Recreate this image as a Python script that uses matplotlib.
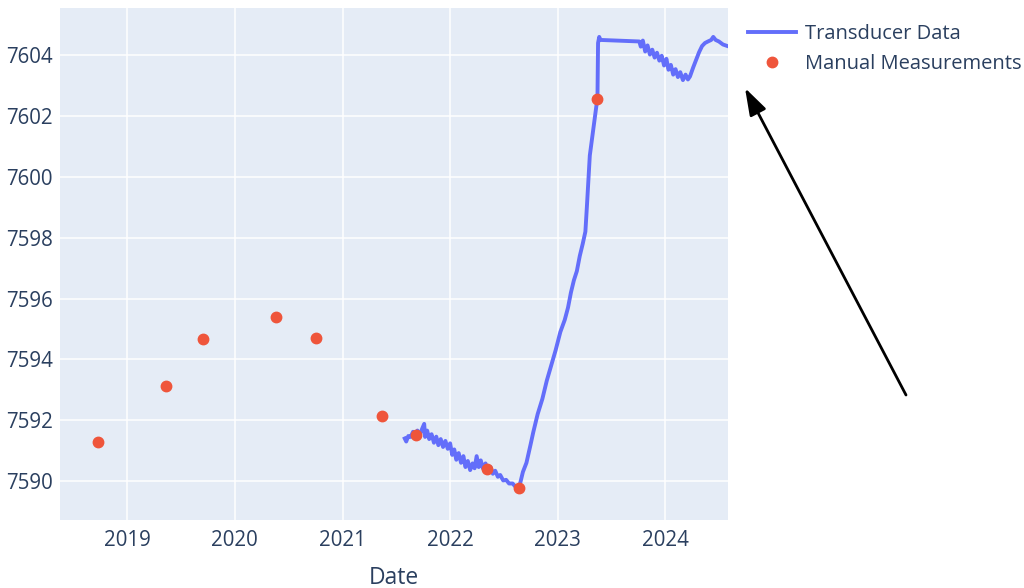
import matplotlib
matplotlib.use("Agg")
import matplotlib.pyplot as plt
import matplotlib.dates as mdates
import pandas as pd

# ---- Data --------------------------------------------------------------------
manual_dates = [
    "2018-09-25", "2019-05-13", "2019-09-16", "2020-05-19", "2020-10-02",
    "2021-05-16", "2021-09-06", "2022-05-05", "2022-08-23", "2023-05-16",
]
manual_values = [
    7591.29, 7593.12, 7594.68, 7595.39, 7594.71,
    7592.13, 7591.53, 7590.38, 7589.76, 7602.57,
]

transducer_dates = [
    # noisy decline 2021-2022
    "2021-07-31", "2021-08-05", "2021-08-12", "2021-08-20", "2021-08-28",
    "2021-09-05", "2021-09-12", "2021-09-20", "2021-09-28", "2021-10-05",
    "2021-10-08", "2021-10-15", "2021-10-22", "2021-10-30", "2021-11-07",
    "2021-11-15", "2021-11-22", "2021-11-30", "2021-12-08", "2021-12-16",
    "2021-12-24", "2022-01-01", "2022-01-08", "2022-01-15", "2022-01-22",
    "2022-01-30", "2022-02-07", "2022-02-15", "2022-02-22", "2022-03-02",
    "2022-03-10", "2022-03-18", "2022-03-25", "2022-04-01", "2022-04-08",
    "2022-04-15", "2022-04-22", "2022-05-01", "2022-05-10", "2022-05-18",
    "2022-05-26", "2022-06-03", "2022-06-12", "2022-06-20", "2022-06-30",
    "2022-07-10", "2022-07-20", "2022-08-01", "2022-08-12", "2022-08-23",
    # recovery 2022-2023
    "2022-09-05", "2022-09-17", "2022-10-01", "2022-10-10", "2022-10-25",
    "2022-11-10", "2022-11-25", "2022-12-10", "2022-12-25", "2023-01-10",
    "2023-01-25", "2023-02-05", "2023-02-15", "2023-02-25", "2023-03-07",
    "2023-03-17", "2023-03-27", "2023-04-05", "2023-04-10", "2023-04-20",
    "2023-05-16", "2023-05-18", "2023-05-22", "2023-05-26",
    # after the gap
    "2023-10-05", "2023-10-10", "2023-10-17", "2023-10-25", "2023-11-02",
    "2023-11-10", "2023-11-18", "2023-11-26", "2023-12-04", "2023-12-12",
    "2023-12-20", "2023-12-28", "2024-01-05", "2024-01-12", "2024-01-20",
    "2024-01-28", "2024-02-05", "2024-02-13", "2024-02-21", "2024-03-01",
    "2024-03-10", "2024-03-18", "2024-03-25", "2024-04-05", "2024-04-15",
    "2024-04-25", "2024-05-05", "2024-05-15", "2024-05-25", "2024-06-05",
    "2024-06-12", "2024-06-20", "2024-07-01", "2024-07-15", "2024-07-30",
]
transducer_values = [
    7591.40, 7591.30, 7591.48, 7591.45, 7591.62,
    7591.48, 7591.66, 7591.50, 7591.72, 7591.88,
    7591.45, 7591.66, 7591.38, 7591.54, 7591.26,
    7591.46, 7591.18, 7591.38, 7591.12, 7591.32,
    7591.06, 7591.24, 7590.86, 7591.04, 7590.70,
    7590.92, 7590.60, 7590.82, 7590.46, 7590.66,
    7590.36, 7590.58, 7590.42, 7590.82, 7590.46,
    7590.68, 7590.42, 7590.58, 7590.36, 7590.46,
    7590.24, 7590.34, 7590.14, 7590.20, 7590.02,
    7590.04, 7589.92, 7589.92, 7589.80, 7589.78,
    7590.30, 7590.60, 7591.20, 7591.60, 7592.20,
    7592.70, 7593.30, 7593.80, 7594.30, 7594.90,
    7595.30, 7595.70, 7596.20, 7596.60, 7596.90,
    7597.40, 7597.80, 7598.20, 7599.00, 7600.70,
    7602.60, 7604.40, 7604.60, 7604.50,
    7604.45, 7604.28, 7604.48, 7604.12, 7604.32,
    7604.02, 7604.18, 7603.92, 7604.08, 7603.82,
    7603.98, 7603.66, 7603.88, 7603.52, 7603.68,
    7603.36, 7603.54, 7603.28, 7603.44, 7603.18,
    7603.36, 7603.20, 7603.30, 7603.60, 7603.85,
    7604.10, 7604.30, 7604.40, 7604.45, 7604.50,
    7604.60, 7604.50, 7604.45, 7604.35, 7604.30,
]

# ---- Style -------------------------------------------------------------------
BG = "#E5ECF6"
TXT = "#2a3f5f"
LINE_C = "#636EFA"
DOT_C = "#EF553B"
plt.rcParams["font.family"] = ["Open Sans", "DejaVu Sans"]

fig = plt.figure(figsize=(10.24, 5.88), dpi=100)
ax = fig.add_axes([60 / 1024, 1 - 520 / 588, 668 / 1024, 512 / 588])
ax.set_facecolor(BG)

ax.plot(pd.to_datetime(transducer_dates), transducer_values,
        color=LINE_C, lw=2.8, label="Transducer Data", zorder=3)
ax.plot(pd.to_datetime(manual_dates), manual_values, "o",
        color=DOT_C, ms=7.5, label="Manual Measurements", zorder=4)

ax.set_xlim(pd.Timestamp("2018-05-18"), pd.Timestamp("2024-08-01"))
ax.set_ylim(7588.72, 7605.55)
ax.xaxis.set_major_locator(mdates.YearLocator())
ax.xaxis.set_major_formatter(mdates.DateFormatter("%Y"))
ax.set_yticks(range(7590, 7606, 2))
ax.grid(True, color="white", lw=1.1)
ax.set_axisbelow(True)
for s in ax.spines.values():
    s.set_visible(False)
ax.tick_params(length=0, labelsize=14.8, labelcolor=TXT)
ax.tick_params(axis="y", pad=5)
ax.tick_params(axis="x", pad=7)
ax.set_xlabel("Date", fontsize=16.5, color=TXT, labelpad=11)

ax.legend(loc="upper left", bbox_to_anchor=(748 / 1024, 1 - 24 / 588),
          bbox_transform=fig.transFigure, frameon=False, fontsize=14.5,
          labelcolor=TXT, handlelength=2.4, handletextpad=0.45,
          labelspacing=0.5, borderpad=0, borderaxespad=0)

ax.annotate("", xy=(745 / 1024, 1 - 88 / 588), xytext=(906 / 1024, 1 - 395 / 588),
            xycoords="figure fraction", textcoords="figure fraction",
            annotation_clip=False,
            arrowprops=dict(arrowstyle="-|>,head_length=0.55,head_width=0.18",
                            color="black", lw=2,
                            mutation_scale=30, shrinkA=0, shrinkB=0))

fig.savefig("out.png", dpi=100)
